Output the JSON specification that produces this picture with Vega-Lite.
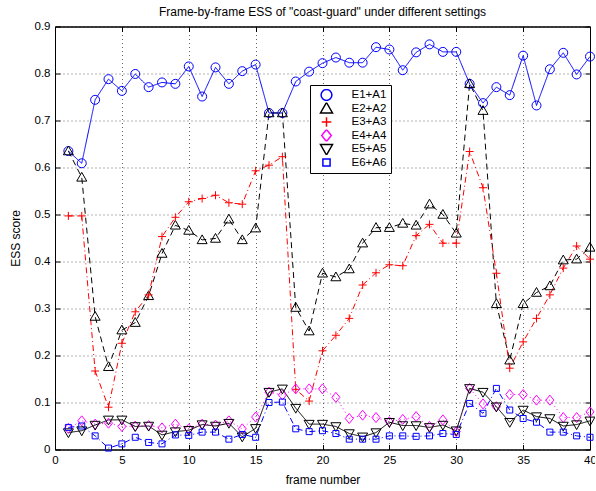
{
  "$schema": "https://vega.github.io/schema/vega-lite/v6.json",
  "autosize": {"type": "none"},
  "padding": {"left": 55, "top": 26.5, "right": 5, "bottom": 41.5},
  "width": 535,
  "height": 423,
  "background": "white",
  "title": {"text": "Frame-by-frame ESS of \"coast-guard\" under different settings", "fontSize": 12, "fontWeight": "normal", "font": "Liberation Sans", "color": "black", "offset": 2},
  "data": {"values": [
    {"f":1,"E1+A1":0.635,"E2+A2":0.635,"E3+A3":0.497,"E4+A4":0.045,"E5+A5":0.036,"E6+A6":0.047},
    {"f":2,"E1+A1":0.609,"E2+A2":0.579,"E3+A3":0.497,"E4+A4":0.061,"E5+A5":0.040,"E6+A6":0.050},
    {"f":3,"E1+A1":0.744,"E2+A2":0.283,"E3+A3":0.167,"E4+A4":0.054,"E5+A5":0.052,"E6+A6":0.029},
    {"f":4,"E1+A1":0.788,"E2+A2":0.176,"E3+A3":0.090,"E4+A4":0.056,"E5+A5":0.063,"E6+A6":0.003},
    {"f":5,"E1+A1":0.763,"E2+A2":0.254,"E3+A3":0.226,"E4+A4":0.049,"E5+A5":0.063,"E6+A6":0.012},
    {"f":6,"E1+A1":0.799,"E2+A2":0.270,"E3+A3":0.293,"E4+A4":0.050,"E5+A5":0.049,"E6+A6":0.026},
    {"f":7,"E1+A1":0.771,"E2+A2":0.327,"E3+A3":0.329,"E4+A4":0.051,"E5+A5":0.050,"E6+A6":0.015},
    {"f":8,"E1+A1":0.781,"E2+A2":0.417,"E3+A3":0.453,"E4+A4":0.046,"E5+A5":0.031,"E6+A6":0.012},
    {"f":9,"E1+A1":0.778,"E2+A2":0.477,"E3+A3":0.494,"E4+A4":0.054,"E5+A5":0.038,"E6+A6":0.031},
    {"f":10,"E1+A1":0.815,"E2+A2":0.466,"E3+A3":0.527,"E4+A4":0.044,"E5+A5":0.041,"E6+A6":0.030},
    {"f":11,"E1+A1":0.751,"E2+A2":0.446,"E3+A3":0.534,"E4+A4":0.054,"E5+A5":0.053,"E6+A6":0.037},
    {"f":12,"E1+A1":0.813,"E2+A2":0.449,"E3+A3":0.541,"E4+A4":0.052,"E5+A5":0.050,"E6+A6":0.037},
    {"f":13,"E1+A1":0.778,"E2+A2":0.490,"E3+A3":0.525,"E4+A4":0.061,"E5+A5":0.056,"E6+A6":0.022},
    {"f":14,"E1+A1":0.805,"E2+A2":0.446,"E3+A3":0.522,"E4+A4":0.044,"E5+A5":0.027,"E6+A6":0.032},
    {"f":15,"E1+A1":0.819,"E2+A2":0.471,"E3+A3":0.593,"E4+A4":0.069,"E5+A5":0.045,"E6+A6":0.026},
    {"f":16,"E1+A1":0.716,"E2+A2":0.716,"E3+A3":0.605,"E4+A4":0.122,"E5+A5":0.122,"E6+A6":0.100},
    {"f":17,"E1+A1":0.716,"E2+A2":0.716,"E3+A3":0.623,"E4+A4":0.116,"E5+A5":0.129,"E6+A6":0.101},
    {"f":18,"E1+A1":0.783,"E2+A2":0.302,"E3+A3":0.128,"E4+A4":0.129,"E5+A5":0.088,"E6+A6":0.044},
    {"f":19,"E1+A1":0.804,"E2+A2":0.252,"E3+A3":0.103,"E4+A4":0.129,"E5+A5":0.054,"E6+A6":0.038},
    {"f":20,"E1+A1":0.822,"E2+A2":0.375,"E3+A3":0.210,"E4+A4":0.129,"E5+A5":0.054,"E6+A6":0.040},
    {"f":21,"E1+A1":0.834,"E2+A2":0.367,"E3+A3":0.243,"E4+A4":0.111,"E5+A5":0.049,"E6+A6":0.034},
    {"f":22,"E1+A1":0.823,"E2+A2":0.384,"E3+A3":0.279,"E4+A4":0.066,"E5+A5":0.034,"E6+A6":0.022},
    {"f":23,"E1+A1":0.823,"E2+A2":0.439,"E3+A3":0.350,"E4+A4":0.073,"E5+A5":0.027,"E6+A6":0.022},
    {"f":24,"E1+A1":0.856,"E2+A2":0.472,"E3+A3":0.376,"E4+A4":0.068,"E5+A5":0.036,"E6+A6":0.022},
    {"f":25,"E1+A1":0.851,"E2+A2":0.472,"E3+A3":0.393,"E4+A4":0.059,"E5+A5":0.058,"E6+A6":0.029},
    {"f":26,"E1+A1":0.807,"E2+A2":0.481,"E3+A3":0.391,"E4+A4":0.064,"E5+A5":0.051,"E6+A6":0.029},
    {"f":27,"E1+A1":0.845,"E2+A2":0.477,"E3+A3":0.455,"E4+A4":0.070,"E5+A5":0.051,"E6+A6":0.028},
    {"f":28,"E1+A1":0.862,"E2+A2":0.522,"E3+A3":0.479,"E4+A4":0.049,"E5+A5":0.047,"E6+A6":0.029},
    {"f":29,"E1+A1":0.846,"E2+A2":0.500,"E3+A3":0.439,"E4+A4":0.063,"E5+A5":0.052,"E6+A6":0.034},
    {"f":30,"E1+A1":0.846,"E2+A2":0.460,"E3+A3":0.439,"E4+A4":0.038,"E5+A5":0.040,"E6+A6":0.032},
    {"f":31,"E1+A1":0.778,"E2+A2":0.778,"E3+A3":0.634,"E4+A4":0.130,"E5+A5":0.130,"E6+A6":0.098},
    {"f":32,"E1+A1":0.737,"E2+A2":0.721,"E3+A3":0.557,"E4+A4":0.097,"E5+A5":0.122,"E6+A6":0.077},
    {"f":33,"E1+A1":0.771,"E2+A2":0.310,"E3+A3":0.375,"E4+A4":0.091,"E5+A5":0.091,"E6+A6":0.130},
    {"f":34,"E1+A1":0.754,"E2+A2":0.190,"E3+A3":0.173,"E4+A4":0.117,"E5+A5":0.058,"E6+A6":0.084},
    {"f":35,"E1+A1":0.838,"E2+A2":0.310,"E3+A3":0.229,"E4+A4":0.117,"E5+A5":0.084,"E6+A6":0.066},
    {"f":36,"E1+A1":0.732,"E2+A2":0.334,"E3+A3":0.279,"E4+A4":0.105,"E5+A5":0.070,"E6+A6":0.058},
    {"f":37,"E1+A1":0.809,"E2+A2":0.348,"E3+A3":0.329,"E4+A4":0.105,"E5+A5":0.066,"E6+A6":0.037},
    {"f":38,"E1+A1":0.844,"E2+A2":0.403,"E3+A3":0.386,"E4+A4":0.068,"E5+A5":0.050,"E6+A6":0.037},
    {"f":39,"E1+A1":0.798,"E2+A2":0.405,"E3+A3":0.433,"E4+A4":0.068,"E5+A5":0.053,"E6+A6":0.029},
    {"f":40,"E1+A1":0.836,"E2+A2":0.430,"E3+A3":0.405,"E4+A4":0.080,"E5+A5":0.061,"E6+A6":0.026}
  ]},
  "transform": [
    {"fold": ["E1+A1","E2+A2","E3+A3","E4+A4","E5+A5","E6+A6"], "as": ["series","score"]}
  ],
  "layer": [
    {
      "mark": {"type": "line", "strokeWidth": 1},
      "encoding": {
        "x": {"field": "f", "type": "quantitative", "title": "frame number",
              "scale": {"domain": [0, 40], "nice": false, "zero": false},
              "axis": {"values": [0,5,10,15,20,25,30,35,40], "tickSize": -5, "labelPadding": 10, "titlePadding": 8}},
        "y": {"field": "score", "type": "quantitative", "title": "ESS score",
              "scale": {"domain": [0, 0.9], "nice": false},
              "axis": {"values": [0,0.1,0.2,0.3,0.4,0.5,0.6,0.7,0.8,0.9], "format": ".1~f", "tickSize": -5, "labelPadding": 10, "titlePadding": 12}},
        "color": {"field": "series", "type": "nominal", "legend": null,
                  "scale": {"domain": ["E1+A1","E2+A2","E3+A3","E4+A4","E5+A5","E6+A6"], "range": ["#0000ff","#000000","#ff0000","#ff00ff","#000000","#0000ff"]}},
        "strokeDash": {"field": "series", "type": "nominal", "legend": null,
                  "scale": {"domain": ["E1+A1","E2+A2","E3+A3","E4+A4","E5+A5","E6+A6"], "range": [[1,0],[6,4],[6,3,1,3],[1,3],[1,0],[6,3,1,3]]}},
        "order": {"field": "f", "type": "quantitative"}
      }
    },
    {
      "mark": {"type": "point", "filled": false, "strokeWidth": 1, "size": 100, "opacity": 1},
      "encoding": {
        "x": {"field": "f", "type": "quantitative",
              "axis": {"orient": "top", "values": [0,5,10,15,20,25,30,35,40], "labels": false, "title": null, "grid": false, "tickSize": -5}},
        "y": {"field": "score", "type": "quantitative",
              "axis": {"orient": "right", "values": [0,0.1,0.2,0.3,0.4,0.5,0.6,0.7,0.8,0.9], "labels": false, "title": null, "grid": false, "tickSize": -5}},
        "color": {"field": "series", "type": "nominal",
                  "legend": {"orient": "none", "legendX": 255, "legendY": 58.5, "title": null,
                             "padding": 4, "strokeColor": "black", "fillColor": "white",
                             "symbolSize": 144, "symbolOffset": 5.5, "labelOffset": 18, "labelFontSize": 11.5, "rowPadding": 1.5, "clipHeight": 12,
                             "labelFont": "Liberation Sans", "labelColor": "black",
                             "encode": {"symbols": {"update": {
                               "fill": {"value": "transparent"},
                               "stroke": {"scale": "color", "field": "value"},
                               "strokeWidth": {"value": 1},
                               "strokeDash": {"value": [1, 0]},
                               "opacity": {"value": 1},
                               "shape": {"signal": "datum.value === 'E1+A1' ? 'M-1.75,0H-0.75M0.75,0H1.75M-0.75,0A0.75,0.75,0,1,1,0.75,0A0.75,0.75,0,1,1,-0.75,0Z' : datum.value === 'E2+A2' ? 'M-1.75,0H1.75M0,-0.83L0.83,0.62L-0.83,0.62Z' : datum.value === 'E3+A3' ? 'M-1.75,0H1.75M0,-0.67V0.67' : datum.value === 'E4+A4' ? 'M-1.75,0H-0.67M0.67,0H1.75M0,-0.83L0.67,0L0,0.83L-0.67,0Z' : datum.value === 'E5+A5' ? 'M-1.75,0H1.75M0,0.83L0.83,-0.62L-0.83,-0.62Z' : 'M-1.75,0H1.75M-0.5,-0.5H0.5V0.5H-0.5Z'"}
                             }}}}},
        "shape": {"field": "series", "type": "nominal", "legend": null,
                  "scale": {"domain": ["E1+A1","E2+A2","E3+A3","E4+A4","E5+A5","E6+A6"],
                            "range": ["M-0.9,0A0.9,0.9,0,1,1,0.9,0A0.9,0.9,0,1,1,-0.9,0Z", "M0,-1L1,0.75L-1,0.75Z", "M-0.8,0H0.8M0,-0.8V0.8", "M0,-1L0.8,0L0,1L-0.8,0Z", "M0,1L1,-0.75L-1,-0.75Z", "M-0.6,-0.6H0.6V0.6H-0.6Z"]}}
      }
    }
  ],
  "resolve": {"axis": {"x": "independent", "y": "independent"}, "legend": {"color": "independent", "shape": "independent", "strokeDash": "independent"}},
  "config": {
    "font": "Liberation Sans",
    "view": {"stroke": "black", "strokeWidth": 1},
    "legend": {"strokeColor": "black", "fillColor": "white", "padding": 4},
    "axis": {
      "domainColor": "black", "domainWidth": 1, "tickColor": "black", "tickWidth": 1,
      "labelFont": "Liberation Sans", "labelFontSize": 11.5, "labelColor": "black",
      "titleFont": "Liberation Sans", "titleFontSize": 12, "titleFontWeight": "normal", "titleColor": "black",
      "gridColor": "black", "gridDash": [1, 3], "gridOpacity": 0.6, "gridWidth": 1,
      "labelFlush": false, "labelOverlap": false
    }
  }
}
